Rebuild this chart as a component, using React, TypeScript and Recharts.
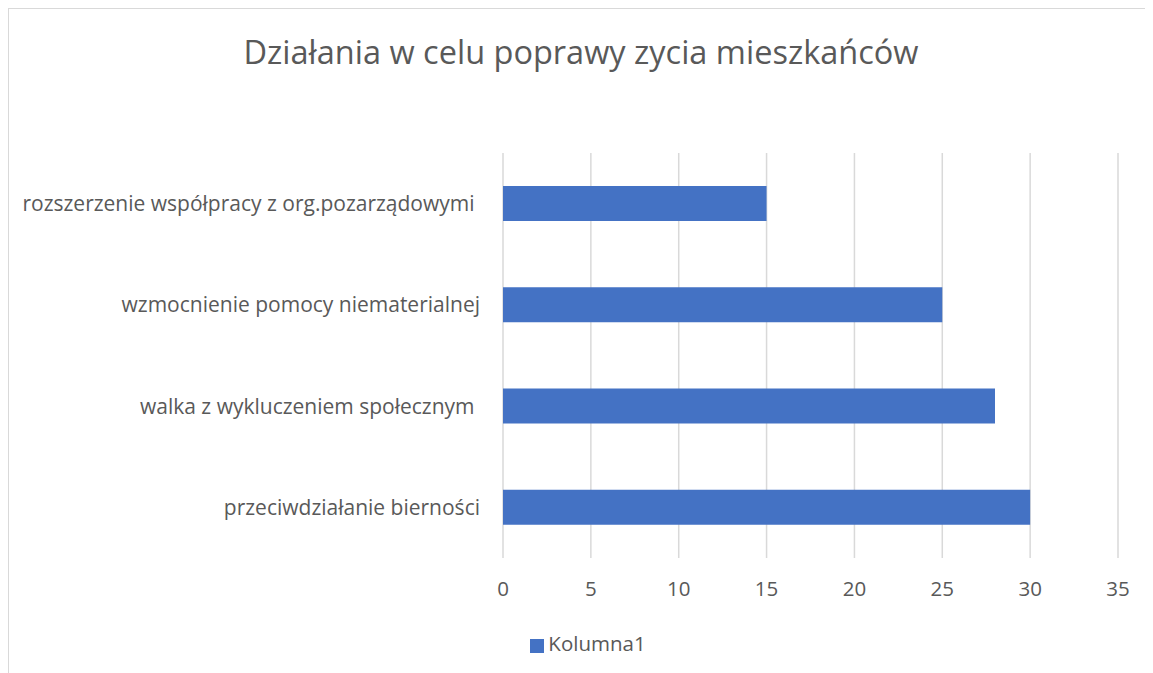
import React from "react";
import { BarChart, Bar, XAxis, YAxis, CartesianGrid, Legend } from "recharts";

const categories = [
  "rozszerzenie współpracy z org.pozarządowymi ",
  "wzmocnienie pomocy niematerialnej",
  "walka z wykluczeniem społecznym ",
  "przeciwdziałanie bierności",
];
const values = [15, 25, 28, 30];
const xTicks = [0, 5, 10, 15, 20, 25, 30, 35];
const seriesName = "Kolumna1";
const title = "Działania w celu poprawy zycia mieszkańców";

const data = categories.map((c, i) => ({ name: c, value: values[i] }));

const FONT = "'Open Sans', sans-serif";
const TEXT = "#595959";
const LABEL_SIZE = 20.5;
const CAT_SIZE = 21;

const YTick = (props: any) => {
  const { x, y, payload } = props;
  return (
    <text
      x={x}
      y={y}
      dy="0.355em"
      textAnchor="end"
      fill={TEXT}
      fontSize={CAT_SIZE}
      fontFamily={FONT}
      style={{ whiteSpace: "pre" }}
    >
      {payload.value}
    </text>
  );
};

export default function App() {
  return (
    <div
      style={{
        position: "relative",
        width: 1144,
        height: 664,
        borderTop: "1px solid #d9d9d9",
        borderLeft: "1px solid #d9d9d9",
        fontFamily: FONT,
      }}
    >
      <div
        style={{
          position: "absolute",
          top: 20,
          left: 0,
          width: "100%",
          textAlign: "center",
          fontSize: 32.5,
          color: TEXT,
          fontFamily: FONT,
          zIndex: 1,
        }}
      >
        {title}
      </div>
      <BarChart
        width={1144}
        height={664}
        data={data}
        layout="vertical"
        margin={{ top: 144, right: 35, left: 0, bottom: 0 }}
      >
        <CartesianGrid horizontal={false} stroke="#d9d9d9" strokeWidth={1.5} />
        <XAxis
          type="number"
          domain={[0, 35]}
          ticks={xTicks}
          axisLine={false}
          tickLine={false}
          tickSize={0}
          tickMargin={23}
          height={115}
          tick={{ fill: TEXT, fontSize: LABEL_SIZE, fontFamily: FONT }}
        />
        <YAxis
          type="category"
          dataKey="name"
          width={494}
          axisLine={false}
          tickLine={false}
          tickSize={0}
          tickMargin={23}
          tick={<YTick />}
        />
        <Legend
          verticalAlign="middle"
          align="center"
          iconType="square"
          iconSize={14}
          wrapperStyle={{ top: 620, left: 384, width: 400, fontFamily: FONT, fontSize: LABEL_SIZE }}
          formatter={(v: string) => <span style={{ color: TEXT }}>{v}</span>}
        />
        <Bar
          dataKey="value"
          name={seriesName}
          fill="#4472C4"
          barSize={35}
          isAnimationActive={false}
        />
      </BarChart>
    </div>
  );
}
